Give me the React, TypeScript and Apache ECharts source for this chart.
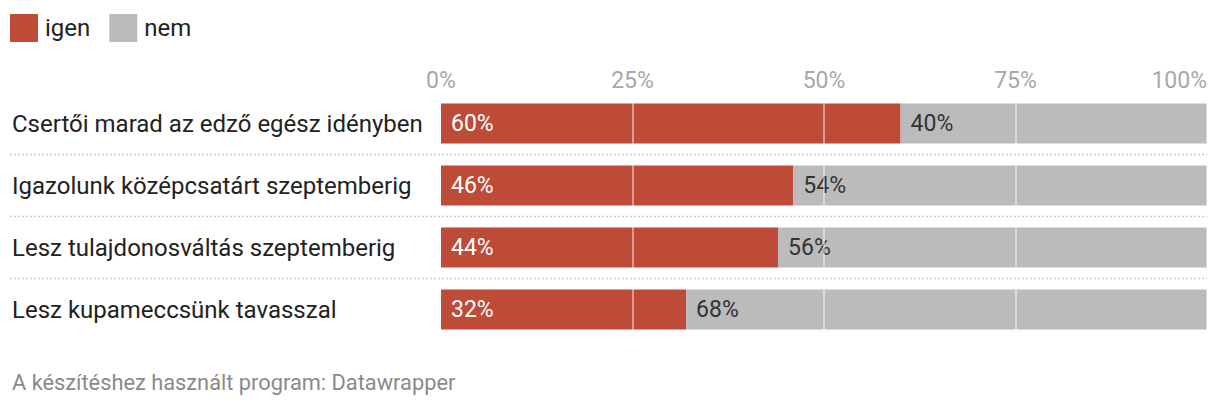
import React, { useEffect, useRef } from "react";
import * as echarts from "echarts";

const categories = [
  "Csertői marad az edző egész idényben",
  "Igazolunk középcsatárt szeptemberig",
  "Lesz tulajdonosváltás szeptemberig",
  "Lesz kupameccsünk tavasszal",
];
const igen = [60, 46, 44, 32];
const nem = [40, 54, 56, 68];
const gridValues = [25, 50, 75, 100];
const footer = "A készítéshez használt program: Datawrapper";

const W = 1220;
const H = 408;
const GRID_LEFT = 441;
const GRID_RIGHT = 13;
const GRID_TOP = 92.5;
const BAND = 62;
const FONT = "Roboto, 'Noto Sans', sans-serif";

export default function App() {
  const ref = useRef<HTMLDivElement>(null);
  useEffect(() => {
    if (!ref.current) return;
    const chart = echarts.init(ref.current, undefined, { renderer: "svg" });
    const gridHeight = BAND * categories.length;
    const separators = categories.slice(1).map((_, i) => ({
      type: "line",
      z: 10,
      silent: true,
      shape: {
        x1: 10,
        y1: GRID_TOP + BAND * (i + 1),
        x2: W - GRID_RIGHT,
        y2: GRID_TOP + BAND * (i + 1),
      },
      style: { stroke: "#cccccc", lineWidth: 1.5, lineDash: [2, 2] },
    }));
    chart.setOption({
      animation: false,
      textStyle: { fontFamily: FONT },
      legend: {
        left: 10,
        top: 14,
        padding: 0,
        itemWidth: 28,
        itemHeight: 28,
        itemGap: 19,
        icon: "rect",
        selectedMode: false,
        textStyle: { fontSize: 24, color: "#222", fontFamily: FONT, padding: [0, 0, 0, 2] },
        data: ["igen", "nem"],
      },
      grid: {
        left: GRID_LEFT,
        right: GRID_RIGHT,
        top: GRID_TOP,
        height: gridHeight,
        containLabel: false,
      },
      xAxis: {
        type: "value",
        position: "top",
        min: 0,
        max: 100,
        interval: 25,
        axisLine: { show: false },
        axisTick: { show: false },
        splitLine: { show: false },
        axisLabel: {
          formatter: "{value}%",
          fontSize: 23,
          color: "#a8a8a8",
          fontFamily: FONT,
          margin: 1,
          alignMaxLabel: "right",
        },
      },
      yAxis: {
        type: "category",
        data: categories,
        inverse: true,
        axisLine: { show: false },
        axisTick: { show: false },
        splitLine: { show: false },
        axisLabel: {
          align: "left",
          margin: GRID_LEFT - 12,
          fontSize: 24,
          color: "#222",
          fontFamily: FONT,
        },
      },
      series: [
        {
          name: "igen",
          type: "bar",
          stack: "total",
          data: igen,
          barWidth: 40,
          itemStyle: { color: "#be4a38" },
          label: {
            show: true,
            position: "insideLeft",
            distance: 10,
            formatter: "{c}%",
            color: "#ffffff",
            fontSize: 23,
            fontFamily: FONT,
          },
        },
        {
          name: "nem",
          type: "bar",
          stack: "total",
          data: nem,
          barWidth: 40,
          itemStyle: { color: "#bbbbbb" },
          label: {
            show: true,
            position: "insideLeft",
            distance: 10,
            formatter: "{c}%",
            color: "#333333",
            fontSize: 23,
            fontFamily: FONT,
          },
          markLine: {
            silent: true,
            symbol: "none",
            z: 5,
            label: { show: false },
            lineStyle: { type: "solid", color: "rgba(255,255,255,0.45)", width: 2 },
            data: gridValues.map((v) => ({ xAxis: v })),
          },
        },
      ],
      graphic: [
        ...separators,
        {
          type: "text",
          left: 12,
          top: 371,
          style: { text: footer, fontSize: 21.8, fill: "#8a8a8a", fontFamily: FONT },
        },
      ],
    });
    return () => chart.dispose();
  }, []);
  return (
    <div
      ref={ref}
      style={{ position: "fixed", left: 0, top: 0, width: W, height: H, background: "#fff" }}
    />
  );
}
